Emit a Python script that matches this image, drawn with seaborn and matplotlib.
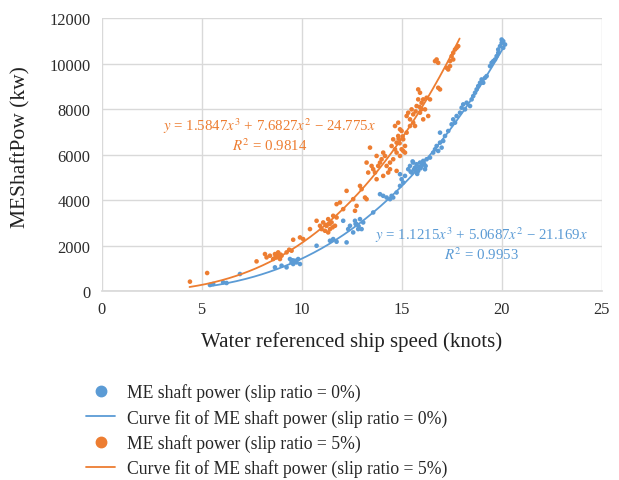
import numpy as np
import pandas as pd
import matplotlib
matplotlib.use("Agg")
import matplotlib.pyplot as plt
import seaborn as sns
from matplotlib.lines import Line2D

# ---- data ----
blue_speed = [5.42, 5.58, 6.08, 6.25, 6.92, 8.67, 9.0, 9.25, 9.42, 9.5, 9.58, 9.67, 9.75, 9.83, 9.92,
              10.75, 11.42, 11.58, 11.75, 12.08, 12.25, 12.33, 12.42, 12.58, 12.67, 12.75, 12.83, 12.92,
              13.0, 13.08, 13.58, 13.92, 14.08, 14.25, 14.42, 14.5, 14.58, 14.75, 14.92, 15.0, 15.08,
              14.92, 15.17, 15.33, 15.42, 15.5, 15.58, 15.67, 15.75, 15.83, 15.92, 16.0, 16.08, 16.17,
              16.25, 16.42, 16.58, 16.67, 16.75, 16.83, 16.92, 17.0, 17.08, 16.92, 17.17, 17.33, 17.5,
              17.58, 17.67, 17.75, 17.92, 18.0, 18.08, 18.17, 18.25, 18.42, 18.5, 18.58, 18.67, 18.75,
              18.83, 18.92, 19.0, 19.08, 19.17, 19.25, 19.42, 19.5, 19.58, 19.67, 19.75, 19.83, 19.92,
              20.0, 20.08, 20.17, 20.08, 20.0, 19.83,
              15.45, 15.62, 15.78, 15.95, 16.12, 15.55, 15.7, 15.88, 16.2, 12.7, 12.85, 9.7, 9.55]
blue_power = [263, 307, 380, 351, 746, 1039, 1112, 1039, 1405, 1258, 1185, 1332, 1258, 1405, 1185,
              1990, 2210, 2283, 2166, 3088, 2137, 2722, 2868, 2576, 3088, 2941, 2722, 3161,
              2722, 3015, 3454, 4259, 4185, 4112, 4039, 4185, 4112, 4332, 4624, 4917, 4771,
              5137, 5063, 5356, 5502, 5210, 5649, 5429, 5576, 5283, 5649, 5502, 5722, 5356,
              5795, 5868, 6088, 6234, 6380, 6161, 6527, 6307, 6600, 6966, 6820, 7039, 7332,
              7551, 7405, 7698, 7844, 8063, 8210, 7990, 8283, 8137, 8429, 8576, 8722, 8868,
              9015, 9161, 9307, 9161, 9380, 9454, 9893, 10039, 10112, 10185, 10332, 10624, 10771,
              10917, 10990, 10844, 10698, 11063, 10478,
              5250, 5350, 5150, 5400, 5600, 5700, 5300, 5450, 5500, 2950, 2850, 1280, 1350]

orange_speed = [4.42, 5.28, 7.75, 8.17, 8.25, 8.42, 8.58, 8.67, 8.75, 8.83, 8.92, 9.0, 9.25, 9.38, 9.5,
                9.58, 9.92, 10.08, 10.42, 10.75, 10.92, 11.0, 11.08, 11.17, 11.25, 11.33, 11.42, 11.5,
                11.58, 11.67, 11.75, 11.75, 11.92, 12.08, 12.25, 12.58, 12.67, 12.75, 12.92, 11.33,
                13.25, 13.42, 13.58, 13.67, 13.75, 13.83, 13.92, 14.0, 14.08, 14.17, 14.25, 14.33,
                14.42, 14.08, 13.75, 13.5, 13.33, 13.17, 13.25, 13.0,
                14.5, 14.58, 14.67, 14.75, 14.83, 14.92, 15.0, 15.08, 15.17, 14.75, 14.58, 14.92,
                15.25, 15.17, 14.83, 15.0, 14.67, 15.08, 14.42, 14.75,
                15.25, 15.33, 15.42, 15.5, 15.58, 15.67, 15.75, 15.83, 15.92, 16.0, 16.08, 16.17,
                16.25, 16.33, 15.42, 15.58, 15.92, 16.08, 15.83, 16.42,
                16.75, 16.83, 16.67, 16.83, 16.92, 17.25, 17.33, 17.42, 17.5, 17.58, 17.67, 17.75,
                17.83, 17.58, 17.42,
                8.8, 8.95, 8.7, 11.2, 11.4, 11.55, 14.9, 15.05, 14.85, 15.7, 15.9, 16.0]
orange_power = [410, 790, 1302, 1624, 1478, 1551, 1405, 1624, 1478, 1698, 1405, 1551, 1698, 1815, 1771,
                2254, 2356, 2283, 2722, 3088, 2868, 2722, 3015, 2649, 2868, 3161, 2722, 3015,
                3307, 2868, 3234, 3820, 3893, 3600, 4405, 4039, 3527, 3746, 4624, 2576,
                5649, 6307, 5356, 5210, 5941, 5502, 5649, 5795, 6088, 5941, 5502, 5210,
                5649, 5063, 4917, 5502, 5210, 4112, 4039, 4478,
                6380, 6673, 7259, 6527, 6820, 7112, 6234, 6673, 6380, 6088, 5795, 5941,
                6966, 6088, 7405, 7039, 6234, 6161, 5356, 5283,
                7698, 7844, 7551, 7990, 7771, 7259, 8137, 8429, 8722, 8283, 8429, 7990,
                8502, 7698, 7259, 7405, 7844, 7551, 8868, 8429,
                10185, 10039, 10112, 8941, 8868, 9819, 9746, 9893, 10332, 10478, 10624, 10698,
                10771, 10185, 10112,
                1550, 1600, 1500, 2900, 2950, 2800, 6500, 6800, 6700, 7900, 8100, 8000]

# trendline coefficients shown on the chart (x^3, x^2, x) and plotted ranges
blue_coef = [1.1215, 5.0687, -21.169]
orange_coef = [1.5847, 7.6827, -24.775]
blue_range = [5.4, 20.2]
orange_range = [4.4, 17.9]

labels = ["ME shaft power (slip ratio = 0%)",
          "Curve fit of ME shaft power (slip ratio = 0%)",
          "ME shaft power (slip ratio = 5%)",
          "Curve fit of ME shaft power (slip ratio = 5%)"]
x_ticks = [0, 5, 10, 15, 20, 25]
y_ticks = [0, 2000, 4000, 6000, 8000, 10000, 12000]

BLUE = "#5B9BD5"
ORANGE = "#ED7D31"

sns.set_theme(style="white")
plt.rcParams["font.family"] = ["Liberation Serif", "DejaVu Serif"]
plt.rcParams["mathtext.fontset"] = "stix"

fig = plt.figure(figsize=(6.19, 4.81), dpi=100)
ax = fig.add_axes([0.164, 0.393, 0.808, 0.567])

pts = pd.concat([
    pd.DataFrame({"speed": blue_speed, "power": blue_power, "series": labels[0]}),
    pd.DataFrame({"speed": orange_speed, "power": orange_power, "series": labels[2]}),
])
sns.scatterplot(data=pts, x="speed", y="power", hue="series",
                palette={labels[0]: BLUE, labels[2]: ORANGE},
                s=11, linewidth=0, ax=ax, legend=False, zorder=3)

def curve(coef, rng):
    xs = np.linspace(rng[0], rng[1], 200)
    ys = coef[0] * xs ** 3 + coef[1] * xs ** 2 + coef[2] * xs
    return pd.DataFrame({"speed": xs, "power": ys})

sns.lineplot(data=curve(blue_coef, blue_range), x="speed", y="power", color=BLUE,
             lw=1.3, ax=ax, zorder=4)
sns.lineplot(data=curve(orange_coef, orange_range), x="speed", y="power", color=ORANGE,
             lw=1.3, ax=ax, zorder=4)

ax.set_xlim(0, 25)
ax.set_ylim(0, 12000)
ax.set_xticks(x_ticks)
ax.set_yticks(y_ticks)
ax.set_xticklabels([str(t) for t in x_ticks])
ax.set_yticklabels([str(t) for t in y_ticks])
ax.grid(True, color="#d9d9d9", lw=1.0)
ax.set_axisbelow(True)
for side in ["top", "right", "left"]:
    ax.spines[side].set_visible(False)
ax.spines["bottom"].set_color("#d9d9d9")
ax.tick_params(axis="both", length=0, labelsize=11.8, colors="#2b2b2b")
ax.tick_params(axis="y", pad=8)
ax.tick_params(axis="x", pad=7)
ax.set_xlabel("Water referenced ship speed (knots)", fontsize=15, color="#222222")
ax.set_ylabel("MEShaftPow (kw)", fontsize=15.5, color="#222222")
ax.xaxis.set_label_coords(0.5, -0.148)
ax.yaxis.set_label_coords(-0.143, 0.53)

ax.text(8.4, 7300, r"$y$ = 1.5847$x^3$ + 7.6827$x^2$ − 24.775$x$", color=ORANGE,
        fontsize=10.7, ha="center", va="center")
ax.text(8.4, 6420, r"$R^2$ = 0.9814", color=ORANGE, fontsize=10.7, ha="center", va="center")
ax.text(18.97, 2500, r"$y$ = 1.1215$x^3$ + 5.0687$x^2$ − 21.169$x$", color=BLUE,
        fontsize=10.7, ha="center", va="center")
ax.text(18.97, 1630, r"$R^2$ = 0.9953", color=BLUE, fontsize=10.7, ha="center", va="center")

handles = [
    Line2D([], [], marker="o", ls="none", color=BLUE, markersize=7.5),
    Line2D([], [], color=BLUE, lw=1.3),
    Line2D([], [], marker="o", ls="none", color=ORANGE, markersize=7.5),
    Line2D([], [], color=ORANGE, lw=1.3),
]
fig.legend(handles, labels, loc="upper left", bbox_to_anchor=(0.139, 0.201),
           frameon=False, fontsize=12.7, handlelength=1.65, labelspacing=0.42,
           handletextpad=0.7, borderaxespad=0, borderpad=0)

fig.savefig("out.png", dpi=100)
